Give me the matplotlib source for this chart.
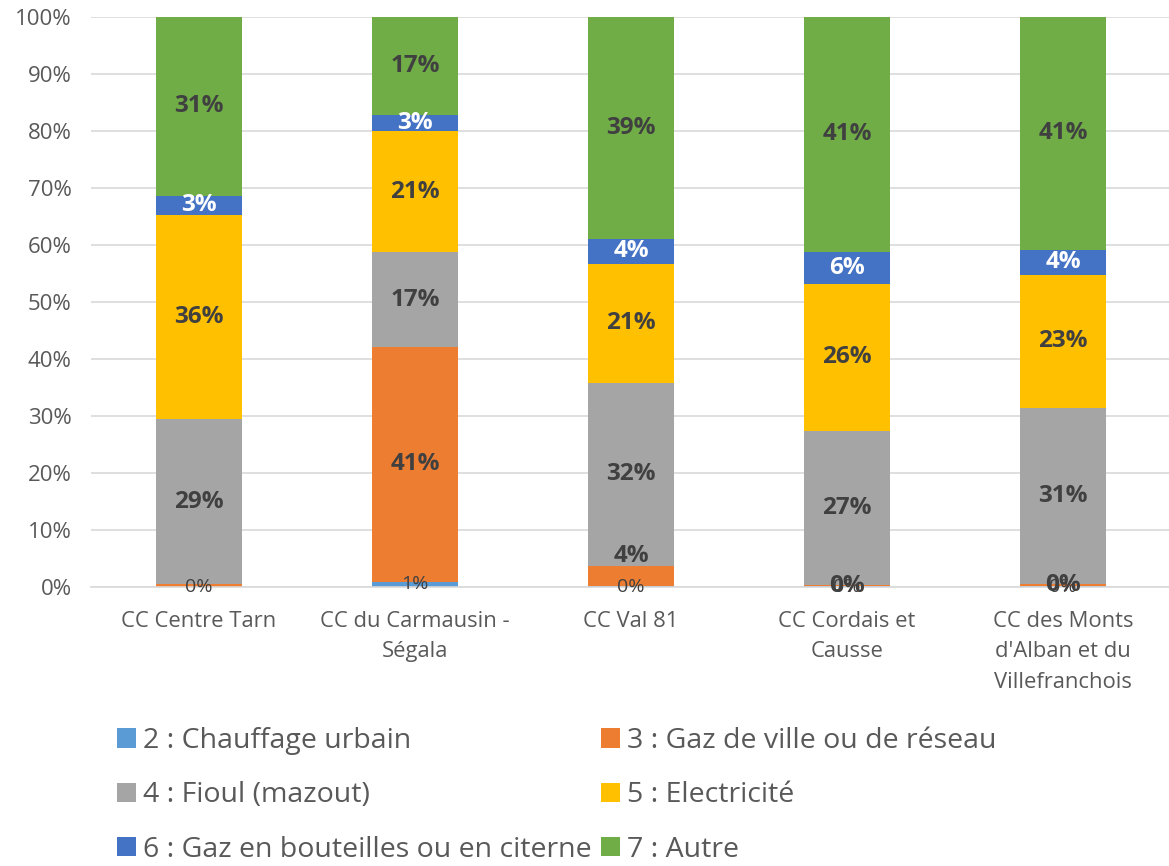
import matplotlib.pyplot as plt
from matplotlib.patches import Patch

plt.rcParams['font.family'] = ['Open Sans', 'DejaVu Sans']

categories = ["CC Centre Tarn", "CC du Carmausin -\nSégala", "CC Val 81",
              "CC Cordais et\nCausse", "CC des Monts\nd'Alban et du\nVillefranchois"]

series_names = ["2 : Chauffage urbain", "3 : Gaz de ville ou de réseau", "4 : Fioul (mazout)",
                "5 : Electricité", "6 : Gaz en bouteilles ou en citerne", "7 : Autre"]

chauffage = [0.05, 0.9, 0.1, 0.1, 0.1]
gaz_ville = [0.4, 41.2, 3.6, 0.3, 0.4]
fioul = [29.1, 16.6, 32.1, 27.0, 30.9]
electricite = [35.8, 21.3, 20.9, 25.8, 23.4]
gaz_bouteille = [3.3, 2.8, 4.4, 5.6, 4.4]
autre = [31.35, 17.2, 38.9, 41.2, 40.8]

# which gaz de ville labels are shown (the first one was removed in the original)
gaz_label_shown = [False, True, True, True, True]

colors = ["#5B9BD5", "#ED7D31", "#A5A5A5", "#FFC000", "#4472C4", "#70AD47"]
text_gray = "#595959"
label_dark = "#404040"


def main():
    fig = plt.figure(figsize=(11.69, 8.66), dpi=100)
    ax = fig.add_axes([91 / 1169, 1 - 587 / 866, 1080 / 1169, 570 / 866])

    series = [chauffage, gaz_ville, fioul, electricite, gaz_bouteille, autre]
    x = list(range(len(categories)))
    bottoms = [0.0] * len(categories)

    for s_idx, values in enumerate(series):
        ax.bar(x, values, width=0.4, bottom=bottoms, color=colors[s_idx], zorder=2)
        for i, v in enumerate(values):
            center = bottoms[i] + v / 2
            txt = f"{round(v):.0f}%"
            if s_idx == 0:
                ax.text(i, center, txt, ha='center', va='center', fontsize=14,
                        color=label_dark, zorder=4)
            elif s_idx == 1:
                if not gaz_label_shown[i]:
                    continue
                y = center
                if 2 < v < 10:
                    y = bottoms[i] + v + 1.8
                ax.text(i, y, txt, ha='center', va='center', fontsize=17.5,
                        fontweight='bold', color=label_dark, zorder=4)
            elif s_idx == 4:
                ax.text(i, center, txt, ha='center', va='center', fontsize=17.5,
                        fontweight='bold', color='white', zorder=4)
            else:
                ax.text(i, center, txt, ha='center', va='center', fontsize=17.5,
                        fontweight='bold', color=label_dark, zorder=4)
        bottoms = [b + v for b, v in zip(bottoms, values)]

    ax.set_xlim(-0.5, len(categories) - 0.5)
    ax.set_ylim(0, 100)
    ax.set_yticks(range(0, 101, 10))
    ax.set_yticklabels([f"{t}%" for t in range(0, 101, 10)], fontsize=16, color=text_gray)
    ax.set_xticks(x)
    ax.set_xticklabels(categories, fontsize=15.8, color=text_gray, linespacing=1.6, va='top')
    ax.tick_params(axis='both', length=0)
    ax.tick_params(axis='y', pad=14)
    ax.tick_params(axis='x', pad=17)
    ax.yaxis.grid(True, color="#D9D9D9", linewidth=1.2, zorder=0)
    ax.set_axisbelow(True)
    for side in ['top', 'right', 'left']:
        ax.spines[side].set_visible(False)
    ax.spines['bottom'].set_color("#D9D9D9")
    ax.spines['bottom'].set_linewidth(1.2)

    handles = [Patch(facecolor=c, edgecolor='none') for c in colors]
    order = [0, 2, 4, 1, 3, 5]
    fig.legend([handles[k] for k in order], [series_names[k] for k in order],
               ncol=2, loc='upper left', bbox_to_anchor=(117 / 1169, 1 - 727 / 866),
               frameon=False, fontsize=20.5, labelcolor=text_gray,
               handlelength=0.65, handleheight=0.65, handletextpad=0.25,
               columnspacing=0.35, labelspacing=0.93, borderpad=0, borderaxespad=0)

    fig.savefig("out.png", dpi=100)


if __name__ == "__main__":
    main()
